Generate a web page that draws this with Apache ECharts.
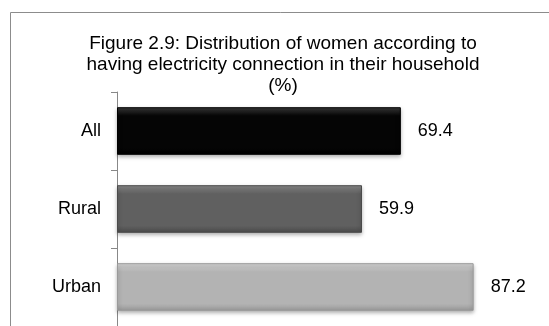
<!DOCTYPE html>
<html>
<head>
<meta charset="utf-8">
<script src="https://cdn.jsdelivr.net/npm/echarts@6/dist/echarts.min.js"></script>
<style>
  html, body { margin: 0; padding: 0; background: #fff; }
  #chart01 { width: 549px; height: 326px; }
</style>
</head>
<body>
<div id="chart01"></div>
<script>
// data
var categories = ['All', 'Rural', 'Urban'];
var values = [69.4, 59.9, 87.2];
var barColors = [
    ['#3a3a3a', '#050505', '#000000'],
    ['#8a8a8a', '#606060', '#4a4a4a'],
    ['#d8d8d8', '#b3b3b3', '#9a9a9a']
];

function bevel(c) {
    return new echarts.graphic.LinearGradient(0, 0, 0, 1, [
        {offset: 0, color: c[0]},
        {offset: 0.18, color: c[1]},
        {offset: 0.85, color: c[1]},
        {offset: 1, color: c[2]}
    ]);
}

var myChart = echarts.init(document.getElementById('chart01'));
var option = {
    animation: false,
    title: {
        text: 'Figure 2.9: Distribution of women according to\nhaving electricity connection in their household\n(%)',
        left: 278,
        top: 28,
        textAlign: 'center',
        textStyle: {
            fontFamily: 'Liberation Sans',
            fontWeight: 'normal',
            fontSize: 19,
            lineHeight: 21,
            color: '#000'
        }
    },
    graphic: [{
        type: 'rect',
        shape: {x: 10.5, y: 12.5, width: 600, height: 400},
        style: {fill: 'none', stroke: '#8c8c8c', lineWidth: 1},
        silent: true
    }],
    grid: {
        left: 117,
        top: 92,
        width: 409,
        bottom: -8
    },
    xAxis: {
        type: 'value',
        min: 0,
        max: 100,
        show: false
    },
    yAxis: {
        type: 'category',
        inverse: true,
        data: categories,
        axisLine: {show: true, lineStyle: {color: '#888', width: 1}},
        axisTick: {show: true, length: 6, lineStyle: {color: '#888'}},
        axisLabel: {
            margin: 16,
            fontFamily: 'Liberation Sans',
            fontSize: 18,
            color: '#000'
        }
    },
    series: [
        {
            type: 'bar',
            barWidth: '61%',
            data: values.map(function (v, i) {
                return {
                    value: v,
                    itemStyle: {
                        color: bevel(barColors[i]),
                        borderColor: barColors[i][2],
                        borderWidth: 1,
                        shadowColor: 'rgba(0,0,0,0.35)',
                        shadowBlur: 4,
                        shadowOffsetY: 2
                    }
                };
            }),
            label: {
                show: true,
                position: 'right',
                distance: 17,
                fontFamily: 'Liberation Sans',
                fontSize: 18,
                color: '#000'
            }
        }
    ]
};
myChart.setOption(option);
</script>
</body>
</html>
